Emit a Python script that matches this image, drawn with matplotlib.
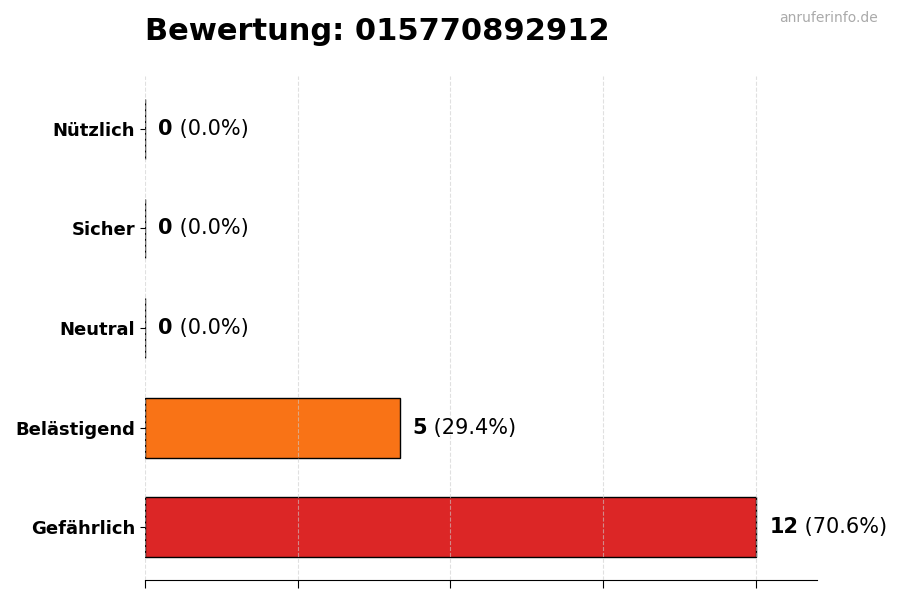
import matplotlib
matplotlib.use("Agg")
import matplotlib.pyplot as plt

# Daten
kategorien = ["Gefährlich", "Belästigend", "Neutral", "Sicher", "Nützlich"]
anzahl = [12, 5, 0, 0, 0]
farben = ["#dc2626", "#f97316", "#9ca3af", "#3b82f6", "#22c55e"]
nummer = "015770892912"

gesamt = sum(anzahl)

fig = plt.figure(figsize=(9, 6), dpi=100)
ax = fig.add_axes([0.161, 0.0333, 0.747, 0.84])

ax.barh(kategorien, anzahl, height=0.6, color=farben, edgecolor="black", linewidth=1, zorder=2)

ax.set_xlim(0, max(anzahl) * 1.1)
ax.set_xticks(range(0, max(anzahl) + 1, 3))
ax.set_xticklabels([])
ax.tick_params(axis="x", length=6)
ax.grid(axis="x", linestyle="--", color="#cccccc", alpha=0.6, zorder=3)
ax.set_axisbelow(False)

for s in ["top", "right", "left"]:
    ax.spines[s].set_visible(False)

for lbl in ax.get_yticklabels():
    lbl.set_fontweight("bold")
    lbl.set_fontsize(13)

for i, n in enumerate(anzahl):
    pct = n / gesamt * 100 if gesamt else 0
    t = ax.annotate(str(n), xy=(n, i), xytext=(9.5, 0), textcoords="offset points",
                    va="center", ha="left", fontsize=15, fontweight="bold")
    ax.annotate(f" ({pct:.1f}%)", xy=(1, 0.5), xycoords=t, va="center", ha="left",
                fontsize=15)

fig.text(0.161, 0.947, f"Bewertung: {nummer}", fontsize=22, fontweight="bold",
         ha="left", va="center")
fig.text(0.975, 0.97, "anruferinfo.de", fontsize=10, color="#aaaaaa",
         ha="right", va="center")

fig.savefig("out.png", dpi=100)
